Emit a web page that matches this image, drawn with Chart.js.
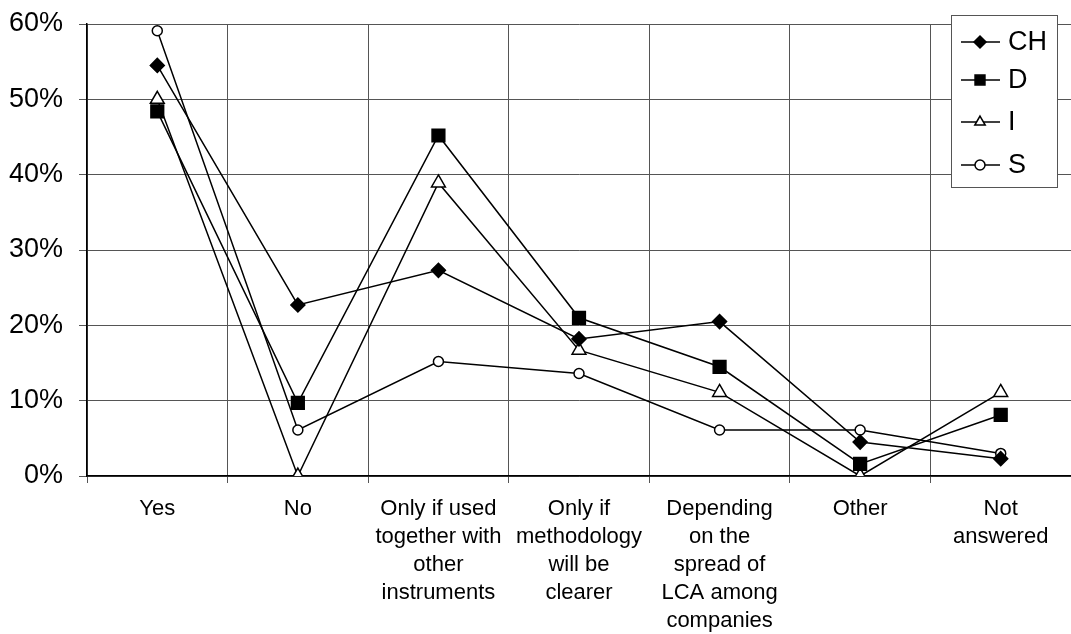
<!DOCTYPE html>
<html>
<head>
<meta charset="utf-8">
<script src="https://cdn.jsdelivr.net/npm/chart.js@4/dist/chart.umd.min.js"></script>
<style>
  html, body { margin: 0; padding: 0; background: #fff; overflow: hidden; }
  #wrap { width: 1071px; height: 634px; position: relative; }
</style>
</head>
<body>
<div id="wrap"><canvas id="chart"></canvas></div>
<script>
// categories (multi-line labels)
const categories = [
  "Yes",
  "No",
  ["Only if used", "together with", "other", "instruments"],
  ["Only if", "methodology", "will be", "clearer"],
  ["Depending", "on the", "spread of", "LCA among", "companies"],
  "Other",
  ["Not", "answered"],
];

// values in percent
const chValues = [54.5, 22.7, 27.3, 18.2, 20.5, 4.5, 2.3];
const dValues = [48.4, 9.7, 45.2, 21.0, 14.5, 1.6, 8.1];
const iValues = [50.0, 0.0, 38.9, 16.7, 11.1, 0.0, 11.1];
const sValues = [59.1, 6.1, 15.2, 13.6, 6.1, 6.1, 3.0];

const seriesNames = ["CH", "D", "I", "S"];
const yTicks = [0, 10, 20, 30, 40, 50, 60];

const FONT = "'Liberation Sans', Arial, sans-serif";

// Legend drawn as a box with line + marker samples
const boxLegend = {
  id: "boxLegend",
  afterDraw(chart) {
    const ctx = chart.ctx;
    const x0 = 951, y0 = 15, w = 106, h = 172;
    ctx.save();
    ctx.fillStyle = "#fff";
    ctx.fillRect(x0, y0, w, h);
    ctx.strokeStyle = "#555";
    ctx.lineWidth = 1;
    ctx.strokeRect(x0 + 0.5, y0 + 0.5, w, h);
    const rows = [42, 80, 122, 165];
    chart.data.datasets.forEach((ds, i) => {
      const y = rows[i];
      ctx.strokeStyle = "#000";
      ctx.lineWidth = 1.5;
      ctx.beginPath();
      ctx.moveTo(961, y);
      ctx.lineTo(1000, y);
      ctx.stroke();
      ctx.fillStyle = ds.pointBackgroundColor;
      ctx.strokeStyle = "#000";
      Chart.helpers.drawPoint(ctx, {
        pointStyle: ds.pointStyle,
        radius: ds.legendRadius,
        borderWidth: 1.5,
        rotation: 0,
      }, 980, y);
      ctx.fillStyle = "#000";
      ctx.font = "27px " + FONT;
      ctx.textBaseline = "middle";
      ctx.textAlign = "left";
      ctx.fillText(ds.label, 1008, y + 1);
    });
    ctx.restore();
  },
};

function makeSet(label, data, style, radius, fill, legendRadius) {
  return {
    label: label,
    data: data,
    borderColor: "#000",
    borderWidth: 1.5,
    pointStyle: style,
    pointRadius: radius,
    pointHoverRadius: radius,
    pointBackgroundColor: fill,
    pointBorderColor: "#000",
    pointBorderWidth: 1.5,
    legendRadius: legendRadius,
    tension: 0,
    fill: false,
  };
}

new Chart(document.getElementById("chart"), {
  type: "line",
  data: {
    labels: categories,
    datasets: [
      makeSet(seriesNames[0], chValues, "rectRot", 7, "#000", 6),
      makeSet(seriesNames[1], dValues, "rect", 9, "#000", 7),
      makeSet(seriesNames[2], iValues, "triangle", 8, "#fff", 6),
      makeSet(seriesNames[3], sValues, "circle", 5, "#fff", 5),
    ],
  },
  options: {
    responsive: true,
    maintainAspectRatio: false,
    animation: false,
    layout: {
      autoPadding: false,
      padding: { top: 24, right: -1, left: 0, bottom: 0 },
    },
    plugins: {
      legend: { display: false },
      tooltip: { enabled: false },
    },
    scales: {
      x: {
        offset: true,
        grid: {
          offset: true,
          color: "#555",
          lineWidth: 1,
          tickLength: 7,
          drawTicks: true,
        },
        border: { color: "#000", width: 1.5 },
        ticks: {
          color: "#000",
          font: { family: FONT, size: 22, lineHeight: 1.27 },
          padding: 12,
          maxRotation: 0,
          autoSkip: false,
        },
        afterFit(scale) {
          scale.height = 158;
          scale.paddingLeft = 0;
          scale.paddingRight = 0;
        },
      },
      y: {
        min: 0,
        max: 60,
        afterBuildTicks(scale) {
          scale.ticks = yTicks.map((v) => ({ value: v }));
        },
        grid: {
          color: "#555",
          lineWidth: 1,
          tickLength: 8,
        },
        border: { color: "#000", width: 1.5 },
        ticks: {
          color: "#000",
          font: { family: FONT, size: 27 },
          padding: 16,
          callback: (v) => v + "%",
        },
        afterFit(scale) {
          scale.width = 87;
          scale.paddingTop = 0;
          scale.paddingBottom = 0;
        },
      },
    },
  },
  plugins: [boxLegend],
});
</script>
</body>
</html>
